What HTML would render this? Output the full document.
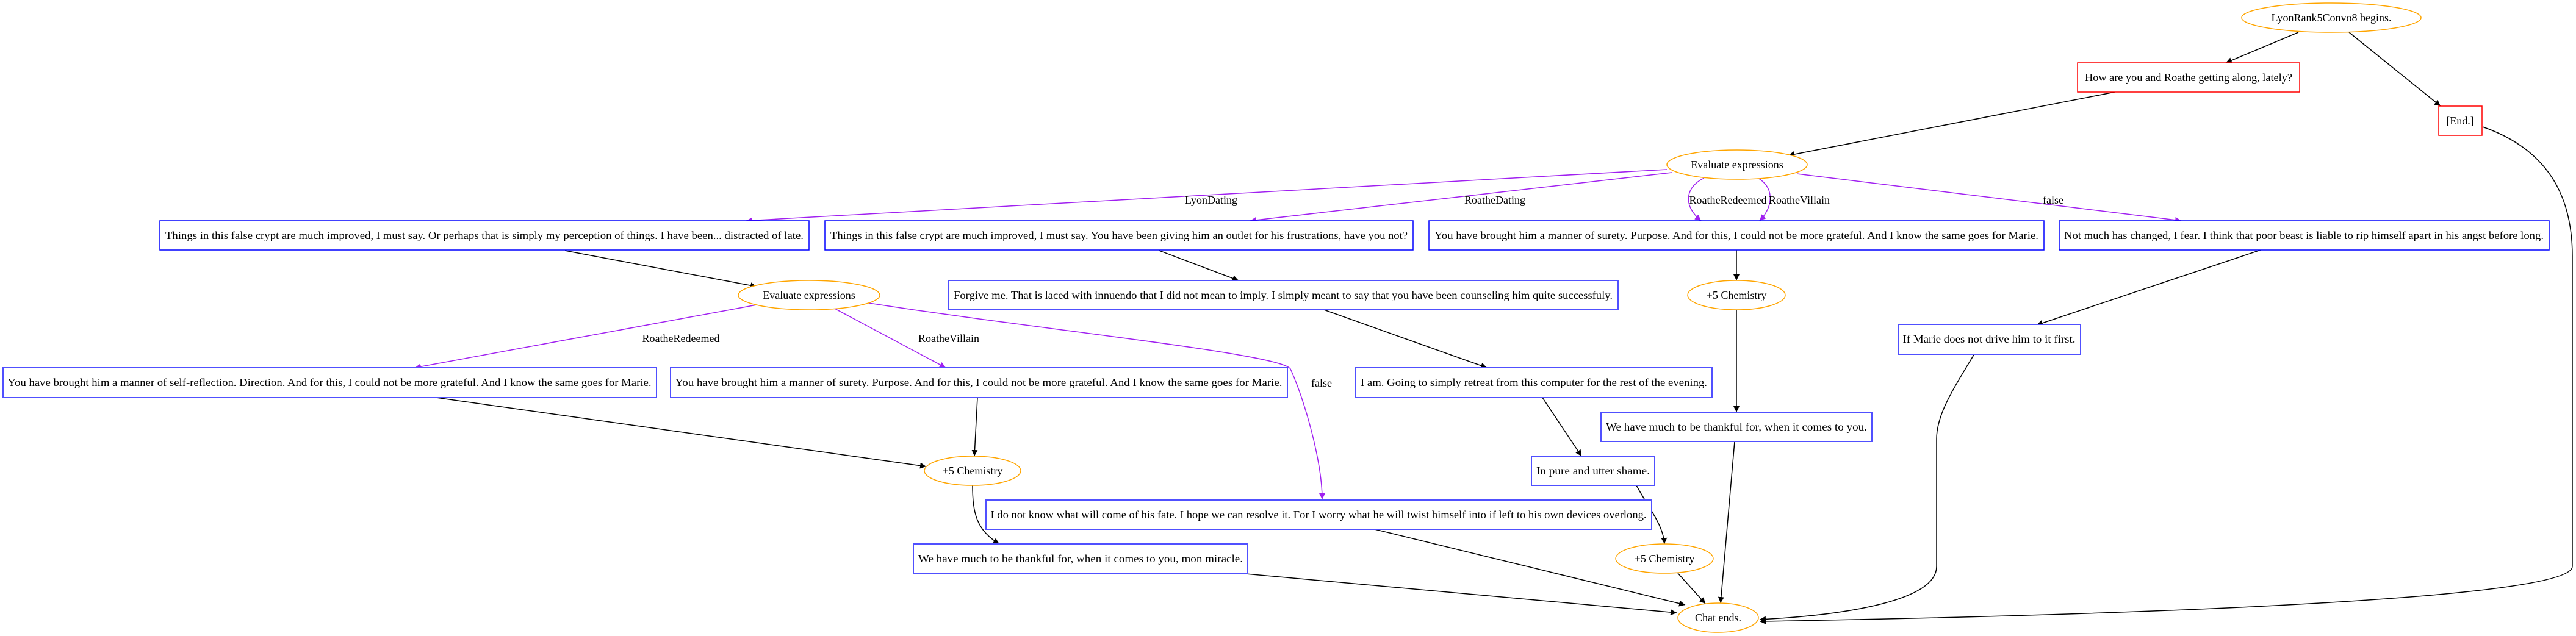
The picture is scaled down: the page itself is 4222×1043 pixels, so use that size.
<!DOCTYPE html>
<html><head><meta charset="utf-8"><style>
html,body{margin:0;padding:0;background:#fff;}
svg{display:block;}
text{font-family:"Liberation Serif","Times New Roman",serif;font-size:18px;fill:#000;}
</style></head><body>
<svg width="4222" height="1043" viewBox="0 0 4222 1043" xmlns="http://www.w3.org/2000/svg">
<defs>
<marker id="ab" viewBox="0 0 10 10" refX="10" refY="5" markerWidth="10" markerHeight="10" markerUnits="userSpaceOnUse" orient="auto"><path d="M0,0 L10,5 L0,10 z" fill="#000"/></marker>
<marker id="ap" viewBox="0 0 10 10" refX="10" refY="5" markerWidth="10" markerHeight="10" markerUnits="userSpaceOnUse" orient="auto"><path d="M0,0 L10,5 L0,10 z" fill="#a020f0"/></marker>
</defs>
<g fill="none" stroke="#000" stroke-width="1.5" marker-end="url(#ab)">
<path d="M3767,53 L3648,103"/>
<path d="M3850,53 L4000,174"/>
<path d="M3466,151 L2931,255"/>
<path d="M926,411 L1240,470"/>
<path d="M1900,411 L2030,460"/>
<path d="M2170,508 L2437,603"/>
<path d="M2528,652 L2592,748"/>
<path d="M2682,796 C2700,830 2726,860 2728,892"/>
<path d="M715,652 L1518,765"/>
<path d="M1602,652 L1597,748"/>
<path d="M1594,796 C1594,840 1600,870 1638,892"/>
<path d="M2846,410 L2846,460"/>
<path d="M2846,508 L2846,676"/>
<path d="M3705,410 L3338,533"/>
<path d="M2030,940 L2748,1005"/>
<path d="M2253,868 L2762,992"/>
<path d="M2750,940 L2795,990"/>
<path d="M2843,724 L2820,989"/>
<path d="M3235,582 C3200,640 3174,680 3174,720 L3174,929 C3174,990 3000,1010 2884,1016"/>
<path d="M4069,208 C4190,250 4216,340 4216,420 L4216,929 C4216,990 3300,1012 2884,1019"/>
</g>
<g fill="none" stroke="#a020f0" stroke-width="1.5" marker-end="url(#ap)">
<path d="M2732,278 L1223,362"/>
<path d="M2740,283 L2049,362"/>
<path d="M2793,292 C2765,305 2755,335 2788,362"/>
<path d="M2881,292 C2905,305 2910,335 2884,362"/>
<path d="M2945,285 L3575,362"/>
<path d="M1240,500 L680,603"/>
<path d="M1368,506 L1550,603"/>
<path d="M1424,497 C1700,540 2100,580 2115,605 C2140,660 2167,760 2167,819"/>
</g>
<g font-size="18">
<text x="1985" y="334" text-anchor="middle">LyonDating</text>
<text x="2450" y="334" text-anchor="middle">RoatheDating</text>
<text x="2832" y="334" text-anchor="middle">RoatheRedeemed</text>
<text x="2949" y="334" text-anchor="middle">RoatheVillain</text>
<text x="3365" y="334" text-anchor="middle">false</text>
<text x="1116" y="561" text-anchor="middle">RoatheRedeemed</text>
<text x="1555" y="561" text-anchor="middle">RoatheVillain</text>
<text x="2166" y="634" text-anchor="middle">false</text>
</g>
<g fill="#fff" stroke="#ffa500" stroke-width="1.5">
<ellipse cx="3821" cy="29" rx="147" ry="24"/>
<ellipse cx="2847" cy="270" rx="115" ry="24"/>
<ellipse cx="1326" cy="484" rx="116" ry="24"/>
<ellipse cx="2846" cy="484" rx="80" ry="24"/>
<ellipse cx="1594" cy="772" rx="79" ry="24"/>
<ellipse cx="2728" cy="916" rx="80" ry="24"/>
<ellipse cx="2816" cy="1013" rx="66" ry="24"/>
</g>
<g fill="#fff" stroke="#ff0000" stroke-width="1.5">
<rect x="3405" y="103" width="364" height="48"/>
<rect x="3997" y="174" width="71" height="48"/>
</g>
<g fill="#fff" stroke="#0000ff" stroke-width="1.5">
<rect x="262" y="362" width="1064" height="48"/>
<rect x="1352" y="362" width="964" height="48"/>
<rect x="2342" y="362" width="1008" height="48"/>
<rect x="3375" y="362" width="803" height="48"/>
</g>
<g fill="#fff" stroke="#5050ff" stroke-width="2">
<rect x="1555" y="460" width="1097" height="48"/>
<rect x="5" y="603" width="1071" height="49"/>
<rect x="1099" y="603" width="1011" height="49"/>
<rect x="2222" y="603" width="584" height="49"/>
<rect x="3111" y="532" width="299" height="49"/>
<rect x="2624" y="676" width="444" height="48"/>
<rect x="2510" y="748" width="202" height="48"/>
<rect x="1616" y="820" width="1091" height="48"/>
<rect x="1497" y="892" width="548" height="48"/>
</g>
<g text-anchor="middle">
<text x="3821" y="35">LyonRank5Convo8 begins.</text>
<text x="2847" y="276">Evaluate expressions</text>
<text x="1326" y="490">Evaluate expressions</text>
<text x="2846" y="490">+5 Chemistry</text>
<text x="1594" y="778">+5 Chemistry</text>
<text x="2728" y="922">+5 Chemistry</text>
<text x="2816" y="1019">Chat ends.</text>
<text x="3587" y="133" textLength="340" lengthAdjust="spacingAndGlyphs">How are you and Roathe getting along, lately?</text>
<text x="4032" y="204">[End.]</text>
<text x="794" y="392" textLength="1046" lengthAdjust="spacingAndGlyphs">Things in this false crypt are much improved, I must say. Or perhaps that is simply my perception of things. I have been... distracted of late.</text>
<text x="1834" y="392" textLength="946" lengthAdjust="spacingAndGlyphs">Things in this false crypt are much improved, I must say. You have been giving him an outlet for his frustrations, have you not?</text>
<text x="2846" y="392" textLength="990" lengthAdjust="spacingAndGlyphs">You have brought him a manner of surety. Purpose. And for this, I could not be more grateful. And I know the same goes for Marie.</text>
<text x="3776" y="392" textLength="786" lengthAdjust="spacingAndGlyphs">Not much has changed, I fear. I think that poor beast is liable to rip himself apart in his angst before long.</text>
<text x="2103" y="490" textLength="1080" lengthAdjust="spacingAndGlyphs">Forgive me. That is laced with innuendo that I did not mean to imply. I simply meant to say that you have been counseling him quite successfuly.</text>
<text x="540" y="633" textLength="1055" lengthAdjust="spacingAndGlyphs">You have brought him a manner of self-reflection. Direction. And for this, I could not be more grateful. And I know the same goes for Marie.</text>
<text x="1604" y="633" textLength="995" lengthAdjust="spacingAndGlyphs">You have brought him a manner of surety. Purpose. And for this, I could not be more grateful. And I know the same goes for Marie.</text>
<text x="2514" y="633" textLength="568" lengthAdjust="spacingAndGlyphs">I am. Going to simply retreat from this computer for the rest of the evening.</text>
<text x="3260" y="562" textLength="283" lengthAdjust="spacingAndGlyphs">If Marie does not drive him to it first.</text>
<text x="2846" y="706" textLength="428" lengthAdjust="spacingAndGlyphs">We have much to be thankful for, when it comes to you.</text>
<text x="2611" y="778" textLength="186" lengthAdjust="spacingAndGlyphs">In pure and utter shame.</text>
<text x="2161" y="850" textLength="1075" lengthAdjust="spacingAndGlyphs">I do not know what will come of his fate. I hope we can resolve it. For I worry what he will twist himself into if left to his own devices overlong.</text>
<text x="1771" y="922" textLength="532" lengthAdjust="spacingAndGlyphs">We have much to be thankful for, when it comes to you, mon miracle.</text>
</g>
</svg>
</body></html>
